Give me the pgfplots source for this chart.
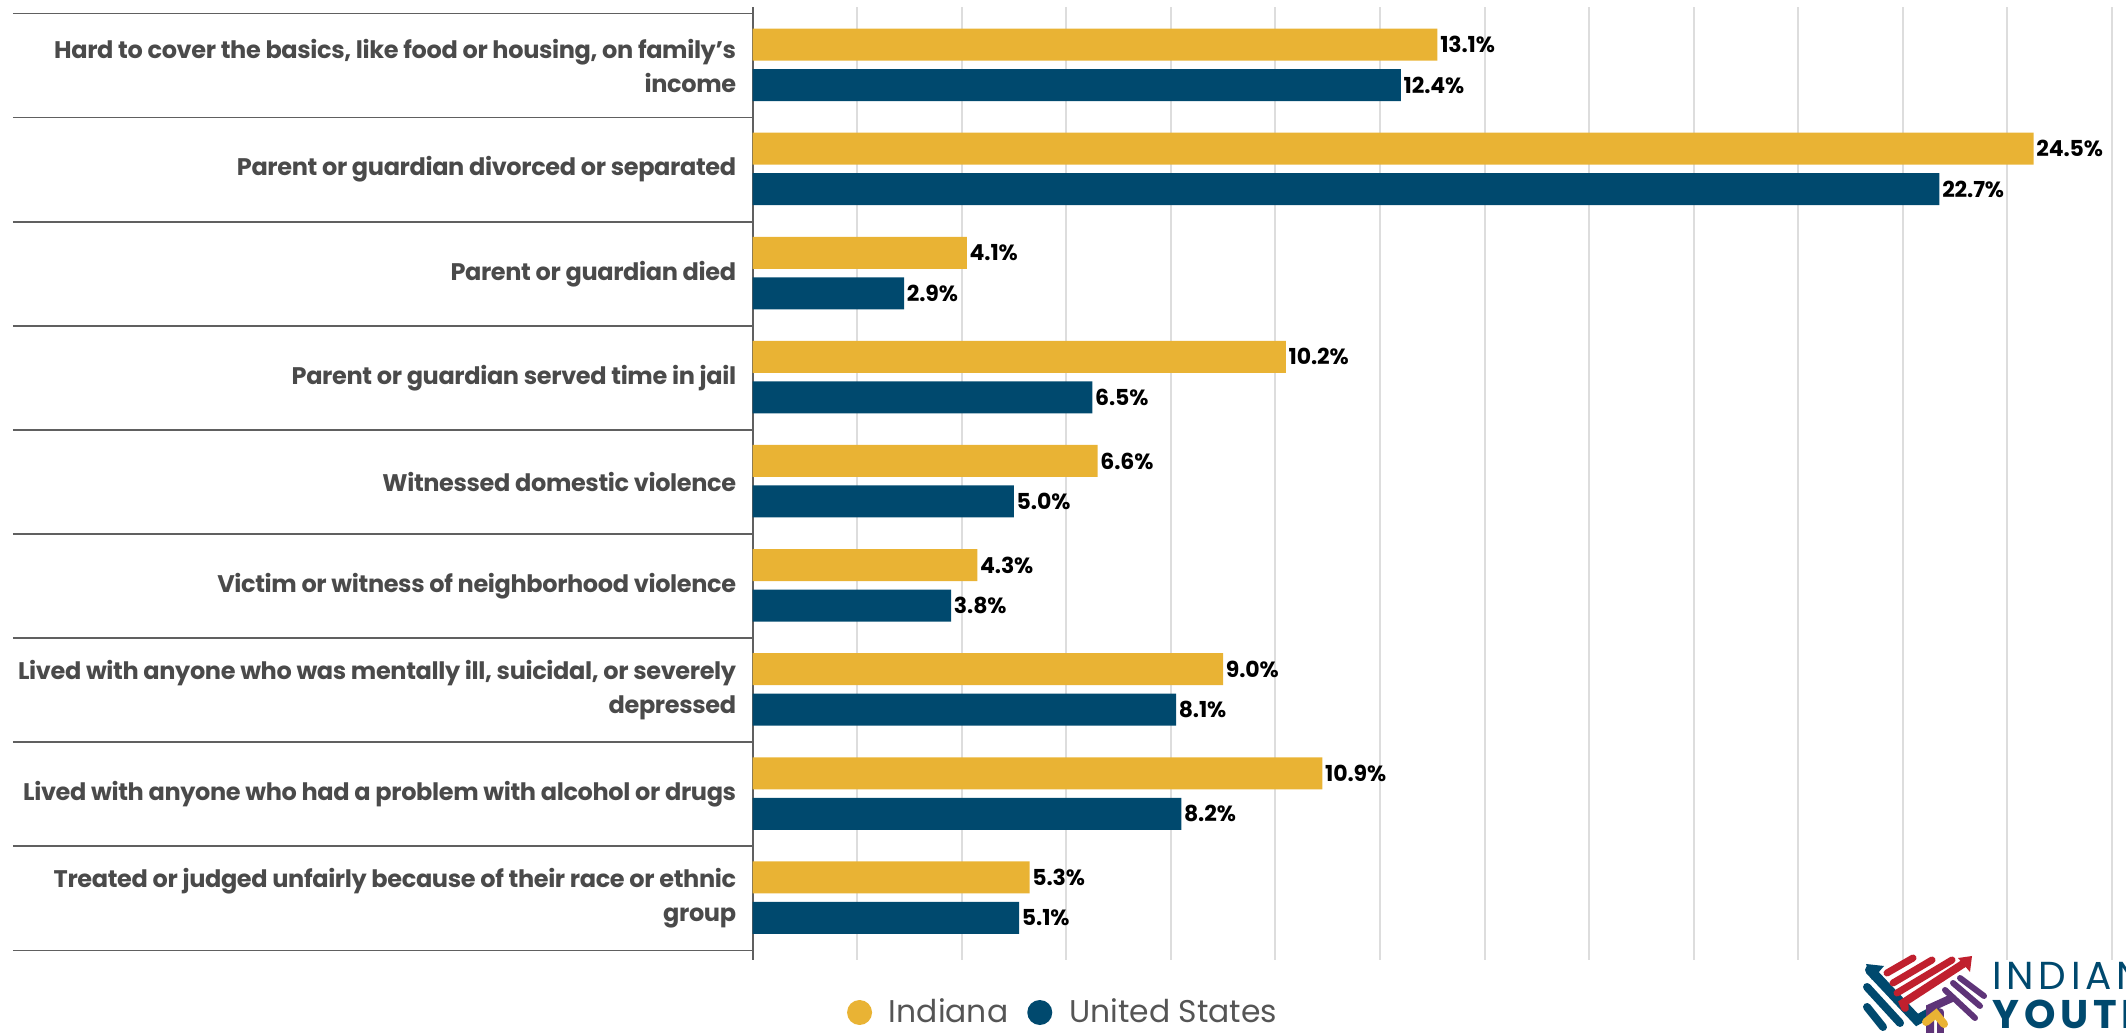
\documentclass[border=0pt]{standalone}
\usepackage{pgfplots}
\pgfplotsset{compat=1.18}
\usepackage{fontspec}
\setmainfont{Poppins}
\newfontfamily\labfont[LetterSpace=-1.5]{Poppins Bold}
\newfontfamily\valfont[LetterSpace=-0.5]{Poppins Bold}
\newfontfamily\logofont[LetterSpace=12]{Poppins}
\newfontfamily\logobold[LetterSpace=12]{Poppins Bold}
\definecolor{indgold}{HTML}{E9B334}
\definecolor{usnavy}{HTML}{00496E}
\definecolor{labgray}{HTML}{4A4A4A}
\definecolor{leggray}{HTML}{555555}
\definecolor{gridgray}{HTML}{DDDDDD}
\definecolor{sepgray}{HTML}{606060}
\definecolor{logored}{HTML}{C0202E}
\definecolor{logopurple}{HTML}{5E3478}
\begin{document}
\begin{tikzpicture}
\begin{axis}[
  at={(376.25pt,36.5pt)}, anchor=south west,
  scale only axis, width=679.75pt, height=476.5pt,
  xmin=0, xmax=26, ymin=-0.5913, ymax=8.5624,
  xbar, bar width=16pt,
  axis lines*=left,
  x axis line style={draw=none},
  y axis line style={draw=sepgray, line width=1pt},
  xtick={0,2,...,26}, xticklabels={},
  xmajorgrids, major grid style={draw=gridgray, line width=1pt},
  ytick={0,...,8},
  yticklabels={
    {Treated or judged unfairly because of their race or ethnic\\group},
    {Lived with anyone who had a problem with alcohol or drugs},
    {Lived with anyone who was mentally ill, suicidal, or severely\\depressed},
    {Victim or witness of neighborhood violence},
    {Witnessed domestic violence},
    {Parent or guardian served time in jail},
    {Parent or guardian died},
    {Parent or guardian divorced or separated},
    {Hard to cover the basics, like food or housing, on family’s\\income}},
  y tick label style={font=\labfont\fontsize{12}{17}\selectfont, text=labgray, align=right, inner sep=0pt, xshift=-8pt},
  minor ytick={-0.5,0.5,...,8.5},
  tick align=outside,
  major tick length=0pt,
  minor tick length=369.75pt,
  every minor tick/.append style={draw=sepgray, line width=0.9pt},
  point meta=x,
  nodes near coords={\pgfmathprintnumber[fixed,fixed zerofill,precision=1]{\pgfplotspointmeta}\%},
  every node near coord/.append style={font=\valfont\fontsize{11}{12}\selectfont, text=black, anchor=west, inner sep=1.2pt},
  /pgf/number format/assume math mode=true,
  legend style={at={(0.2277,-0.0551)}, anchor=center, draw=none, fill=none,
    legend columns=2, font=\fontsize{15.7}{18}\selectfont, text=leggray,
    nodes={inner sep=0pt}, cells={anchor=west},
    /tikz/every odd column/.append style={column sep=8.45pt},
    /tikz/every even column/.append style={column sep=9.5pt}},
  clip=false,
]
\addplot[draw=none, fill=indgold, bar shift=10.5pt,
  legend image code/.code={\fill[indgold] (6.25pt,0pt) circle (6.25pt);}]
  coordinates {(5.3,0) (10.9,1) (9.0,2) (4.3,3) (6.6,4) (10.2,5) (4.1,6) (24.5,7) (13.1,8)};
\addlegendentry{Indiana}
\addplot[draw=none, fill=usnavy, bar shift=-9.75pt,
  legend image code/.code={\fill[usnavy] (6.25pt,0pt) circle (6.25pt);}]
  coordinates {(5.1,0) (8.2,1) (8.1,2) (3.8,3) (5.0,4) (6.5,5) (2.9,6) (22.7,7) (12.4,8)};
\addlegendentry{United States}
\end{axis}
\begin{scope}
\clip (0,0) rectangle (1063pt,516.5pt);
\begin{scope}[x=0.5pt, y=-0.5pt, yshift=516.5pt, line cap=round]
 % navy strokes
 \draw[usnavy, line width=5pt] (1870,970) -- (1917,1020) -- (1935,1010);
 \draw[usnavy, line width=4pt] (1867,987) -- (1900,1023);
 \draw[usnavy, line width=4pt] (1867,1007) -- (1883,1027);
 \fill[usnavy] (1866,964) -- (1884,966) -- (1872,980) -- cycle;
 % red strokes
 \draw[logored, line width=3.5pt] (1887,973) -- (1913,958);
 \draw[logored, line width=3.5pt] (1893,983) -- (1932,960);
 \draw[logored, line width=3.5pt] (1897,993) -- (1952,960);
 \draw[logored, line width=4pt] (1905,1008) -- (1903,1003) -- (1966,962);
 \fill[logored] (1972,956) -- (1958,958) -- (1970,972) -- cycle;
 % purple strokes
 \draw[logopurple, line width=4pt] (1930,1033) -- (1930,1008) -- (1952,998);
 \draw[logopurple, line width=3pt] (1945,990) -- (1975,1018);
 \draw[logopurple, line width=3pt] (1953,983) -- (1980,1006);
 \draw[logopurple, line width=3pt] (1960,978) -- (1984,996);
 \draw[logopurple, line width=3.5pt] (1940,1033) -- (1940,1012);
 % yellow
 \draw[indgold, line width=4pt] (1926,1022) -- (1936,1014) -- (1944,1024);
\end{scope}
\node[anchor=base west, inner sep=0pt, text=usnavy, font=\logofont\fontsize{19.5}{20}\selectfont] at (996pt,21.5pt) {INDIANA};
\node[anchor=base west, inner sep=0pt, text=usnavy, font=\logobold\fontsize{20}{20}\selectfont] at (996pt,2pt) {YOUTH};
\end{scope}
\pgfresetboundingbox
\path[use as bounding box] (0,0) rectangle (1063pt,516.5pt);
\end{tikzpicture}
\end{document}
